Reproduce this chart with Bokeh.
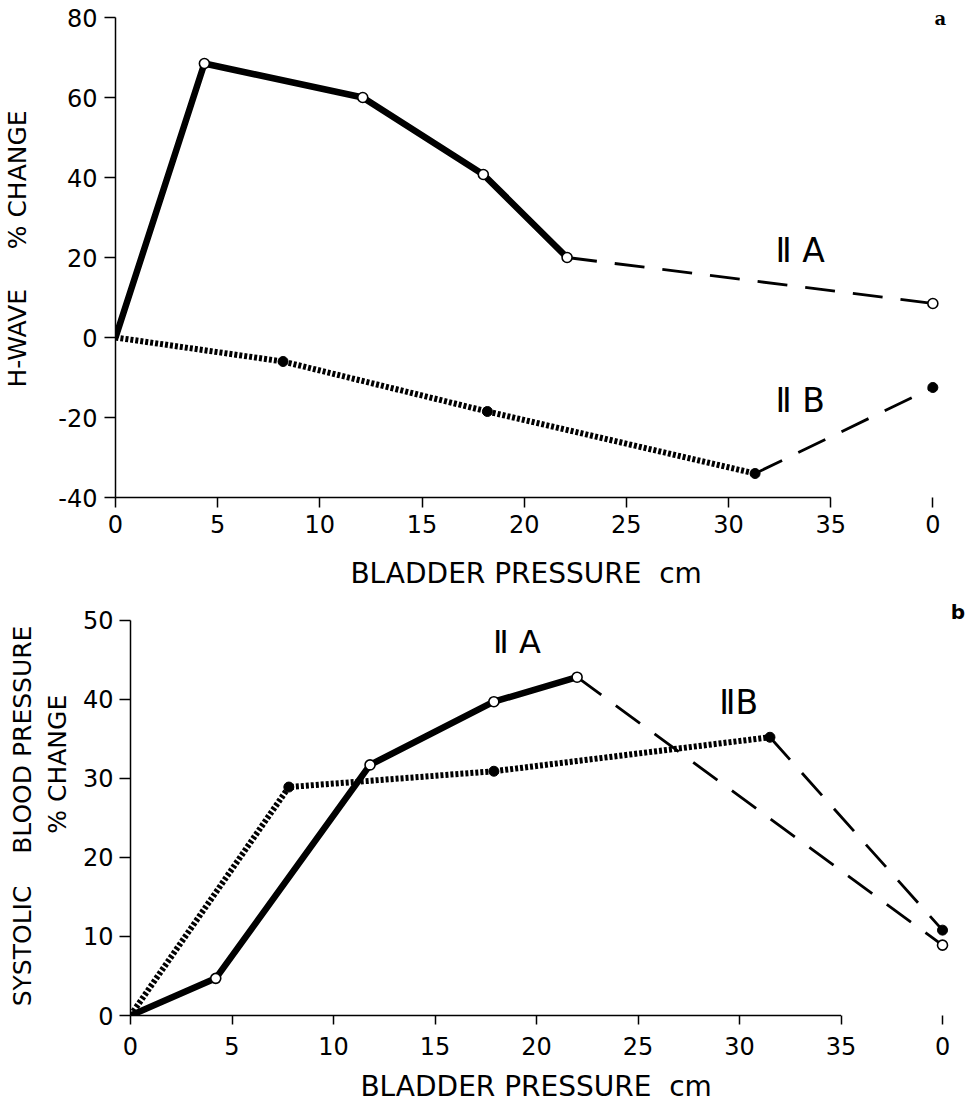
from bokeh.plotting import figure
from bokeh.models import Range1d, LinearAxis, FixedTicker, Label
from bokeh.embed import file_html
from bokeh.resources import INLINE

FONT = "DejaVu Sans"
NB = "\u00a0"

# ---------------- data ----------------
x_ticks = [0, 5, 10, 15, 20, 25, 30, 35]
recovery_x = 40            # position of the post-distension reading
recovery_tick_label = "0"

# panel a : H-wave % change
a_y_ticks = [-40, -20, 0, 20, 40, 60, 80]
a_iia_x = [0, 4.35, 12.1, 18.0, 22.1]
a_iia_y = [0, 68.5, 60.0, 40.75, 20.0]
a_iia_recovery = 8.5
a_iib_x = [0, 8.2, 18.2, 31.3]
a_iib_y = [0, -6.0, -18.5, -34.0]
a_iib_recovery = -12.5

# panel b : systolic blood pressure % change
b_y_ticks = [0, 10, 20, 30, 40, 50]
b_iia_x = [0, 4.2, 11.8, 17.9, 22.0]
b_iia_y = [0, 4.7, 31.7, 39.7, 42.8]
b_iia_recovery = 8.9
b_iib_x = [0, 7.8, 17.9, 31.5]
b_iib_y = [0, 28.9, 30.9, 35.2]
b_iib_recovery = 10.8

x_title = "BLADDER PRESSURE" + NB + " cm" + NB * 3
a_y_title = "H-WAVE" + NB * 5 + "% CHANGE"
b_y_title = ("SYSTOLIC" + NB * 3 + " BLOOD PRESSURE" + NB * 2 + "\n"
             + NB * 11 + "% CHANGE")


def style_axis(ax, tick_out, standoff, label_standoff, label_size):
    ax.axis_line_color = "black"
    ax.axis_line_width = 1.5
    ax.major_tick_line_color = "black"
    ax.major_tick_line_width = 1.5
    ax.major_tick_in = 0
    ax.major_tick_out = tick_out
    ax.minor_tick_line_color = None
    ax.major_label_text_font = FONT
    ax.major_label_text_font_size = "24px"
    ax.major_label_text_color = "black"
    ax.major_label_standoff = standoff
    ax.axis_label_text_font = FONT
    ax.axis_label_text_font_size = label_size
    ax.axis_label_text_font_style = "normal"
    ax.axis_label_text_color = "black"
    ax.axis_label_standoff = label_standoff


def panel(width, height, x_end, y_end, y_ticks, border_left, border_right, border_bottom,
          y_title, y_std, y_label_std, y_label_size, x_tick_out, x_std, x_label_std):
    p = figure(width=width, height=height,
               x_range=Range1d(0, x_end), y_range=Range1d(y_ticks[0], y_end),
               x_axis_type=None, y_axis_type=None,
               output_backend="svg", toolbar_location=None,
               min_border_left=border_left, min_border_right=border_right,
               min_border_top=0, min_border_bottom=border_bottom)
    p.outline_line_color = None
    p.background_fill_color = "white"
    p.border_fill_color = "white"

    xa = LinearAxis(ticker=FixedTicker(ticks=x_ticks + [recovery_x]),
                    major_label_overrides={recovery_x: recovery_tick_label},
                    axis_label=x_title)
    style_axis(xa, x_tick_out, x_std, x_label_std, "28px")
    xa.axis_line_color = None
    p.add_layout(xa, "below")

    neg = {t: "-%d" % abs(t) for t in y_ticks if t < 0}
    ya = LinearAxis(ticker=FixedTicker(ticks=y_ticks), major_label_overrides=neg,
                    bounds=(y_ticks[0], y_ticks[-1]), axis_label=y_title)
    style_axis(ya, 11, y_std, y_label_std, y_label_size)
    p.add_layout(ya, "left")

    # x axis rule spanning the pressure ticks only
    p.segment(x0=[x_ticks[0]], y0=[y_ticks[0]], x1=[x_ticks[-1]], y1=[y_ticks[0]],
              line_color="black", line_width=1.5, level="overlay")
    return p


def draw_series(p, ax, ay, arec, bx, by, brec):
    # IIA : solid heavy line with open circles, dashed recovery
    p.line(ax, ay, line_color="black", line_width=6.5, line_join="round")
    p.line([ax[-1], recovery_x], [ay[-1], arec], line_color="black",
           line_width=2.8, line_dash="30 18")
    # IIB : dotted heavy line with filled circles, dashed recovery
    p.line(bx, by, line_color="black", line_width=6, line_dash="3 2")
    p.line([bx[-1], recovery_x], [by[-1], brec], line_color="black",
           line_width=2.8, line_dash="30 18")
    p.scatter(ax[1:] + [recovery_x], ay[1:] + [arec], marker="circle", size=10,
              fill_color="white", line_color="black", line_width=1.6)
    p.scatter(bx[1:] + [recovery_x], by[1:] + [brec], marker="circle", size=10,
              fill_color="black", line_color="black")


def add_text(p, x, y, text, size, font=FONT, style="normal", align="left"):
    p.add_layout(Label(x=x, y=y, text=text, text_font=font, text_font_style=style,
                       text_font_size=size, text_color="black",
                       text_baseline="middle", text_align=align))


# ---------------- panel a ----------------
pa = panel(963, 600, 41.5, 84.25, a_y_ticks, 114, 0, 103,
           a_y_title, 7, 23, "25px", 10, 7, 21)
draw_series(pa, a_iia_x, a_iia_y, a_iia_recovery, a_iib_x, a_iib_y, a_iib_recovery)
add_text(pa, 32.3, 21.75, "\u2161 A", "33px")
add_text(pa, 32.3, -15.75, "\u2161 B", "33px")
add_text(pa, 40.37, 79.75, "a", "18px", font="DejaVu Serif", style="bold", align="center")

# ---------------- panel b ----------------
pb = panel(968, 510, 41.28, 52.5, b_y_ticks, 130, 0, 95,
           b_y_title, 6, 8, "25px", 9, 12, 12)
draw_series(pb, b_iia_x, b_iia_y, b_iia_recovery, b_iib_x, b_iib_y, b_iib_recovery)
add_text(pb, 17.86, 47.3, "\u2161 A", "32px")
add_text(pb, 29.0, 39.6, "\u2161B", "33px")
add_text(pb, 40.76, 51.0, "b", "20px", style="bold", align="center")

open("out.html", "w").write(file_html([pa, pb], INLINE))
